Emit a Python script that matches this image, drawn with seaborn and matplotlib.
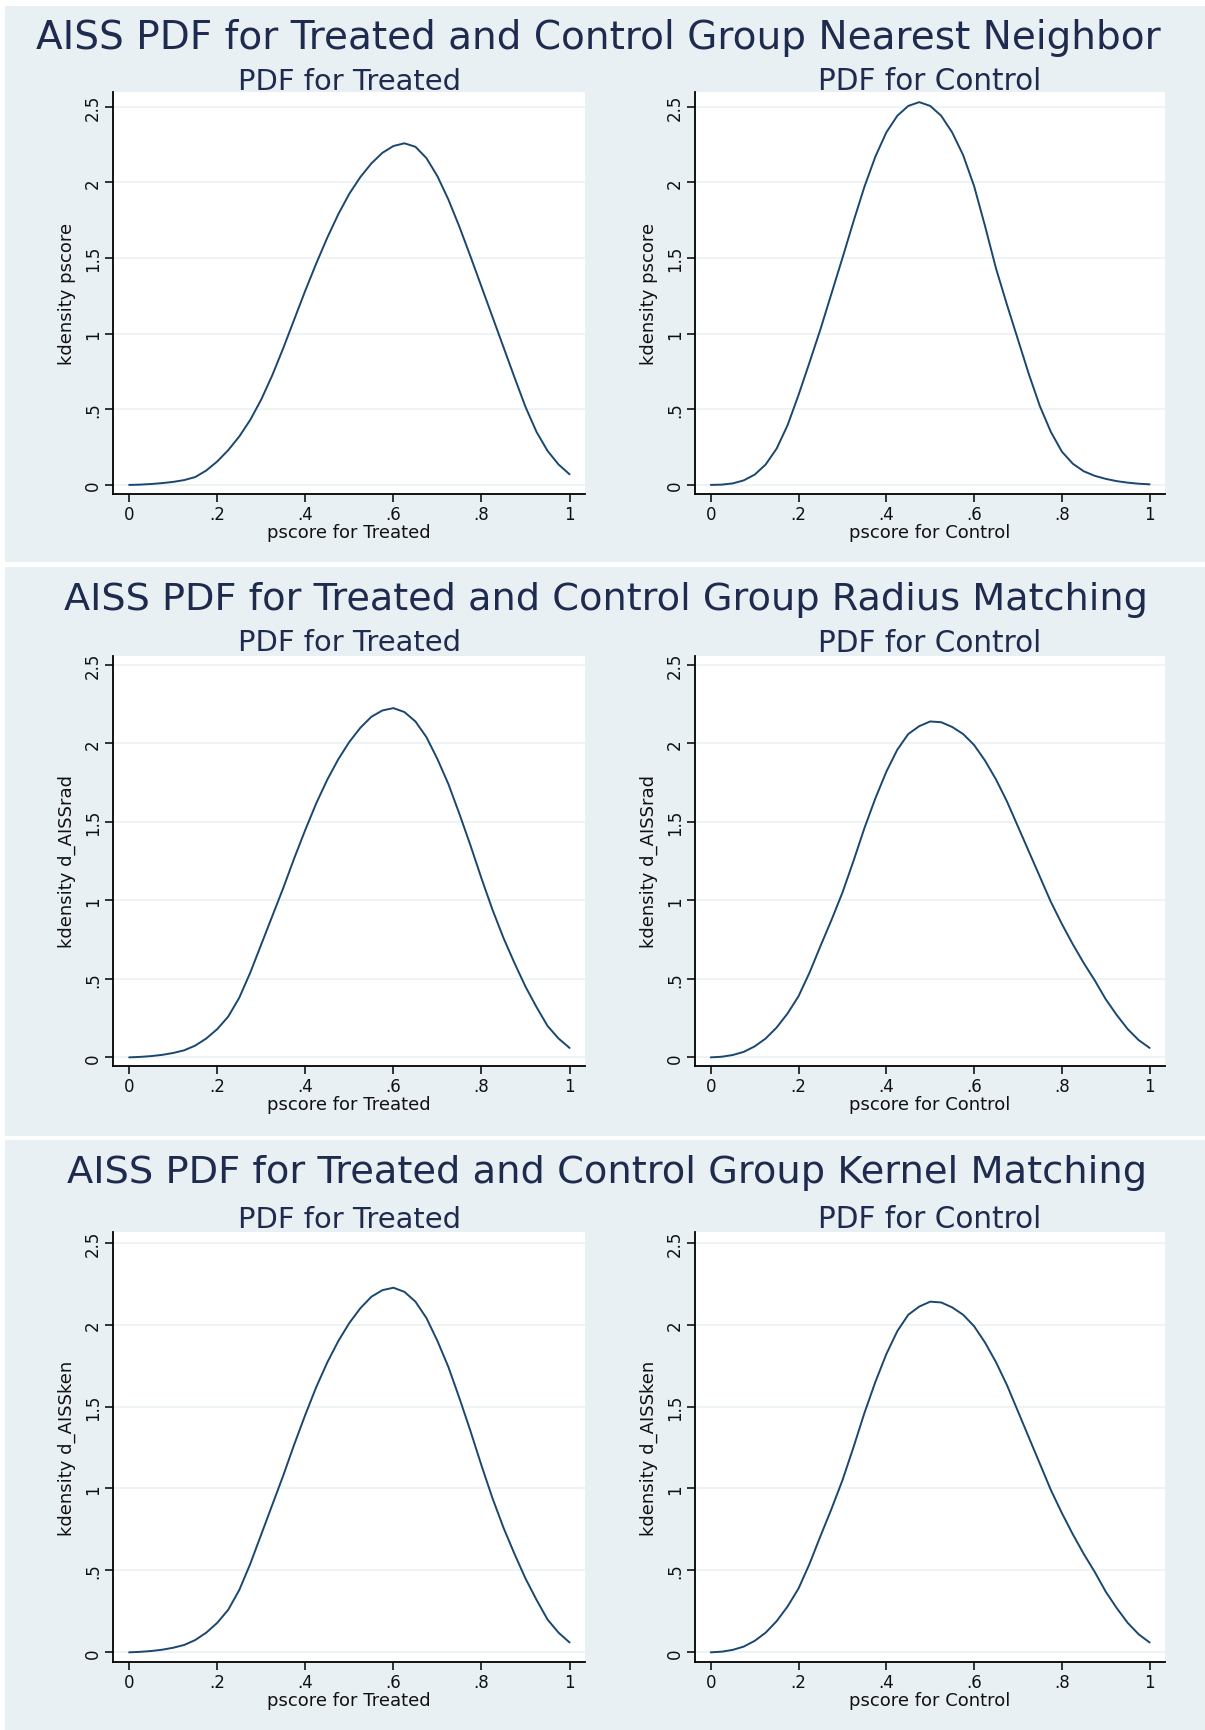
import matplotlib
matplotlib.use("Agg")
import matplotlib.pyplot as plt
import seaborn as sns
import pandas as pd
from matplotlib.patches import Rectangle

# ---------------- data ----------------
pscore_grid = [0.000, 0.025, 0.050, 0.075, 0.100, 0.125, 0.150, 0.175, 0.200, 0.225,
               0.250, 0.275, 0.300, 0.325, 0.350, 0.375, 0.400, 0.425, 0.450, 0.475,
               0.500, 0.525, 0.550, 0.575, 0.600, 0.625, 0.650, 0.675, 0.700, 0.725,
               0.750, 0.775, 0.800, 0.825, 0.850, 0.875, 0.900, 0.925, 0.950, 0.975, 1.000]

nn_treated = [0.000, 0.002, 0.006, 0.012, 0.020, 0.032, 0.052, 0.095, 0.155, 0.230,
              0.320, 0.430, 0.565, 0.725, 0.905, 1.095, 1.285, 1.465, 1.635, 1.790,
              1.925, 2.035, 2.125, 2.195, 2.240, 2.258, 2.235, 2.160, 2.040, 1.885,
              1.705, 1.510, 1.310, 1.110, 0.910, 0.710, 0.515, 0.350, 0.225, 0.135, 0.070]

nn_control = [0.000, 0.002, 0.010, 0.030, 0.068, 0.135, 0.240, 0.395, 0.595, 0.810,
              1.030, 1.265, 1.500, 1.740, 1.970, 2.170, 2.330, 2.440, 2.505, 2.530,
              2.505, 2.440, 2.330, 2.180, 1.975, 1.710, 1.430, 1.190, 0.960, 0.730,
              0.520, 0.350, 0.220, 0.140, 0.090, 0.060, 0.040, 0.025, 0.015, 0.008, 0.004]

rad_treated = [0.000, 0.003, 0.008, 0.016, 0.028, 0.045, 0.075, 0.120, 0.180, 0.260,
               0.380, 0.540, 0.720, 0.900, 1.080, 1.270, 1.450, 1.620, 1.770, 1.900,
               2.010, 2.100, 2.170, 2.210, 2.225, 2.200, 2.140, 2.040, 1.900, 1.740,
               1.550, 1.350, 1.140, 0.940, 0.760, 0.600, 0.450, 0.320, 0.200, 0.120, 0.060]

rad_control = [0.000, 0.004, 0.015, 0.035, 0.070, 0.120, 0.190, 0.280, 0.390, 0.540,
               0.710, 0.875, 1.050, 1.250, 1.460, 1.650, 1.820, 1.960, 2.060, 2.110,
               2.140, 2.135, 2.105, 2.060, 1.990, 1.890, 1.770, 1.630, 1.470, 1.310,
               1.150, 0.990, 0.850, 0.720, 0.600, 0.490, 0.370, 0.270, 0.180, 0.110, 0.060]

ken_treated = [0.000, 0.003, 0.008, 0.016, 0.028, 0.045, 0.075, 0.120, 0.180, 0.260,
               0.380, 0.540, 0.720, 0.900, 1.080, 1.270, 1.450, 1.620, 1.770, 1.900,
               2.010, 2.100, 2.170, 2.210, 2.225, 2.200, 2.140, 2.040, 1.900, 1.740,
               1.550, 1.350, 1.140, 0.940, 0.760, 0.600, 0.450, 0.320, 0.200, 0.120, 0.060]

ken_control = [0.000, 0.004, 0.015, 0.035, 0.070, 0.120, 0.190, 0.280, 0.390, 0.540,
               0.710, 0.875, 1.050, 1.250, 1.460, 1.650, 1.820, 1.960, 2.060, 2.110,
               2.140, 2.135, 2.105, 2.060, 1.990, 1.890, 1.770, 1.630, 1.470, 1.310,
               1.150, 0.990, 0.850, 0.720, 0.600, 0.490, 0.370, 0.270, 0.180, 0.110, 0.060]

panel_titles = ["AISS PDF for Treated and Control Group Nearest Neighbor",
                "AISS PDF for Treated and Control Group Radius Matching",
                "AISS PDF for Treated and Control Group Kernel Matching"]
sub_titles = ["PDF for Treated", "PDF for Control"]
x_labels = ["pscore for Treated", "pscore for Control"]
y_labels = ["kdensity pscore", "kdensity d_AISSrad", "kdensity d_AISSken"]
x_ticks = [0, 0.2, 0.4, 0.6, 0.8, 1.0]
x_ticklabels = ["0", ".2", ".4", ".6", ".8", "1"]
y_ticks = [0, 0.5, 1.0, 1.5, 2.0, 2.5]
y_ticklabels = ["0", ".5", "1", "1.5", "2", "2.5"]

series = [(nn_treated, nn_control), (rad_treated, rad_control), (ken_treated, ken_control)]

# ---------------- style ----------------
sns.set_theme(style="white")
plt.rcParams["font.family"] = ["DejaVu Sans"]

BG = "#E9F0F3"
GRID = "#EBF1F3"
NAVY = "#1A476F"
TITLE_C = "#1E2B4E"
TEXT_C = "#111111"

W, H = 1205, 1731
fig = plt.figure(figsize=(W / 100, H / 100), dpi=100)
fig.patch.set_facecolor("white")

def fx(px):
    return px / W

def fy(py):
    return 1 - py / H

panel_boxes = [(5, 7, 1205, 563), (5, 568, 1205, 1137), (5, 1141, 1205, 1731)]
for (x0, y0, x1, y1) in panel_boxes:
    fig.patches.append(Rectangle((fx(x0), fy(y1)), fx(x1) - fx(x0), fy(y0) - fy(y1),
                                 transform=fig.transFigure, facecolor=BG,
                                 edgecolor="none", zorder=-5))

# plot-region geometry (pixels): top, bottom, ylim
rows = [dict(top=93, bottom=495, ylim=(-0.06, 2.597), title_y=38, sub_y=82),
        dict(top=657, bottom=1067, ylim=(-0.055, 2.557), title_y=600, sub_y=643),
        dict(top=1233, bottom=1663, ylim=(-0.059, 2.565), title_y=1173, sub_y=1220)]
cols = [dict(left=113.3, right=585), dict(left=695, right=1165)]
XLIM = (-0.036, 1.035)

renderer = fig.canvas.get_renderer()

def fit(t, target, vertical=False):
    bb = t.get_window_extent(renderer)
    size = bb.height if vertical else bb.width
    t.set_fontsize(t.get_fontsize() * target / size)

title_widths = [1125, 1085, 1078]
title_cx = [598, 606, 607]
TICK_FS = 12
XLAB_FS = 13

for r, row in enumerate(rows):
    t = fig.text(fx(title_cx[r]), fy(row["title_y"]), panel_titles[r], ha="center",
                 va="center", color=TITLE_C, fontsize=30)
    fit(t, title_widths[r])
    for c, col in enumerate(cols):
        ax = fig.add_axes([fx(col["left"]), fy(row["bottom"]),
                           (col["right"] - col["left"]) / W,
                           (row["bottom"] - row["top"]) / H])
        ax.set_zorder(2)
        ax.set_facecolor("white")
        df = pd.DataFrame({"pscore": pscore_grid, "density": series[r][c]})
        sns.lineplot(data=df, x="pscore", y="density", ax=ax, color=NAVY,
                     linewidth=1.4, sort=False)
        ax.set_xlim(*XLIM)
        ax.set_ylim(*row["ylim"])
        ax.set_xticks(x_ticks)
        ax.set_xticklabels(x_ticklabels)
        ax.set_yticks(y_ticks)
        ax.set_yticklabels(y_ticklabels)
        ax.yaxis.grid(True, color=GRID, linewidth=1.2)
        ax.xaxis.grid(False)
        ax.set_axisbelow(True)
        for s in ["top", "right"]:
            ax.spines[s].set_visible(False)
        for s in ["left", "bottom"]:
            ax.spines[s].set_color("black")
            ax.spines[s].set_linewidth(1.3)
        ax.tick_params(axis="both", direction="out", length=6, width=1.1,
                       color="black", labelcolor=TEXT_C, labelsize=TICK_FS,
                       bottom=True, left=True, pad=2)
        for lbl in ax.get_yticklabels():
            lbl.set_rotation(90)
            lbl.set_va("center")
            lbl.set_ha("right")
        ax.set_xlabel(x_labels[c], color=TEXT_C, fontsize=XLAB_FS, labelpad=0)
        ax.set_ylabel(y_labels[r], color=TEXT_C, fontsize=13, labelpad=6)
        cx = (col["left"] + col["right"]) / 2
        st = fig.text(fx(cx), fy(row["sub_y"]), sub_titles[c], ha="center", va="center",
                      color=TITLE_C, fontsize=18)
        fit(st, 224)

fig.savefig("out.png", dpi=100, facecolor="white")
